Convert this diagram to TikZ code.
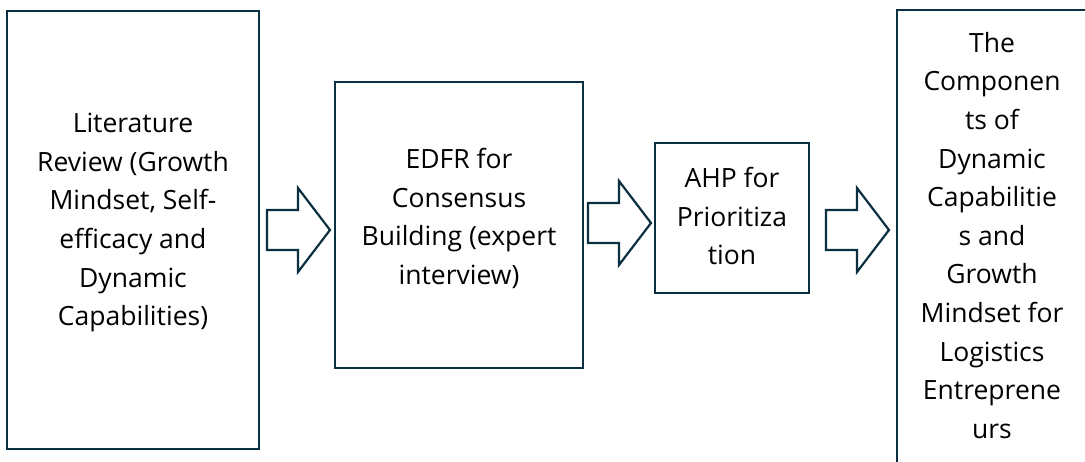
\documentclass[tikz,border=0pt]{standalone}
\usepackage{fontspec}
\setmainfont{Open Sans}
\definecolor{outline}{HTML}{0B3041}
\tikzset{
  stagebox/.style={draw=outline, line width=2.6pt, fill=white, inner sep=0pt, outer sep=0pt},
  stagetext/.style={font=\fontsize{26.5}{38.6}\selectfont, align=center, inner sep=0pt, anchor=north, text=black},
  arrowline/.style={draw=outline, line width=2.2pt, line join=miter, fill=white},
  flowarrow/.pic={
    \draw[arrowline] (0,-20) -- (31,-20) -- (31,-42) -- (63,0) -- (31,42) -- (31,20) -- (0,20) -- cycle;
  }
}
\begin{document}
\begin{tikzpicture}[x=1pt,y=-1pt]
\useasboundingbox (0,0) rectangle (1085,461);
\clip (0,0) rectangle (1085,461);

% stages
\node[stagebox, minimum width=252pt, minimum height=438pt] (lit) at (133,230) {};
\node[stagebox, minimum width=248pt, minimum height=286pt] (edfr) at (459,225) {};
\node[stagebox, minimum width=154pt, minimum height=150pt] (ahp) at (732,218) {};
\node[stagebox, minimum width=191pt, minimum height=470pt] (comp) at (992.5,245) {};

% stage captions
\node[stagetext] (lit-text) at (133,113) {Literature\\Review (Growth\\Mindset, Self-\\efficacy and\\Dynamic\\Capabilities)};
\node[stagetext] (edfr-text) at (459,148) {EDFR for\\Consensus\\Building (expert\\interview)};
\node[stagetext] (ahp-text) at (732,167) {AHP for\\Prioritiza\\tion};
\node[stagetext] (comp-text) at (992,32) {The\\Componen\\ts of\\Dynamic\\Capabilitie\\s and\\Growth\\Mindset for\\Logistics\\Entreprene\\urs};

% block arrows between stages
\path (lit.east) ++(8,0) pic {flowarrow};
\path (edfr.east) ++(5,-2) pic {flowarrow};
\path (ahp.east |- lit.east) ++(17,0) pic {flowarrow};
\end{tikzpicture}
\end{document}
